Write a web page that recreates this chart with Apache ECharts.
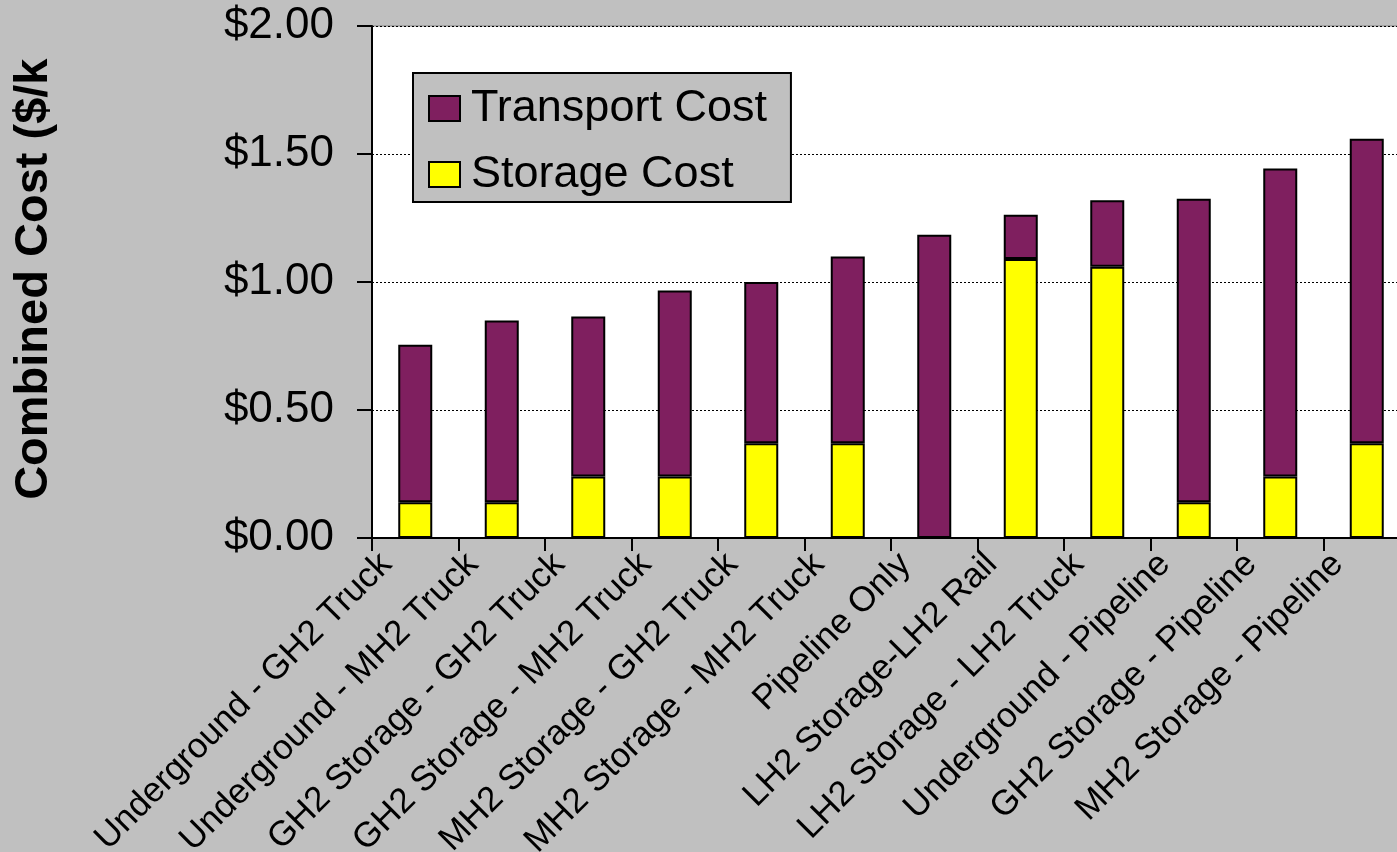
<!DOCTYPE html>
<html>
<head>
<meta charset="utf-8">
<script src="https://cdn.jsdelivr.net/npm/echarts@6/dist/echarts.min.js"></script>
<style>
html,body{margin:0;padding:0;background:#C0C0C0;}
#chart{width:1397px;height:852px;}
</style>
</head>
<body>
<div id="chart"></div>
<script>
const categories = [
  'Underground - GH2 Truck',
  'Underground - MH2 Truck',
  'GH2 Storage - GH2 Truck',
  'GH2 Storage - MH2 Truck',
  'MH2 Storage - GH2 Truck',
  'MH2 Storage - MH2 Truck',
  'Pipeline Only',
  'LH2 Storage-LH2 Rail',
  'LH2 Storage - LH2 Truck',
  'Underground - Pipeline',
  'GH2 Storage - Pipeline',
  'MH2 Storage - Pipeline'
];
const storageCost   = [0.14, 0.14, 0.24, 0.24, 0.37, 0.37, 0.00, 1.09, 1.06, 0.14, 0.24, 0.37];
const transportCost = [0.615, 0.71, 0.625, 0.727, 0.63, 0.73, 1.185, 0.173, 0.259, 1.185, 1.203, 1.19];
const yTicks = [0, 0.5, 1.0, 1.5, 2.0];
const yAxisTitle = 'Combined Cost ($/kg)';

const FONT = '"Liberation Sans", Arial, Helvetica, sans-serif';
const chart = echarts.init(document.getElementById('chart'));
chart.setOption({
  backgroundColor: '#C0C0C0',
  animation: false,
  textStyle: { fontFamily: FONT, color: '#000' },
  grid: {
    left: 372, top: 26, width: 1038, height: 512,
    containLabel: false, outerBoundsMode: 'none',
    show: true, backgroundColor: '#FFFFFF', borderColor: '#808080', borderWidth: 1
  },
  legend: {
    orient: 'vertical',
    left: 413, top: 73,
    data: ['Transport Cost', 'Storage Cost'],
    backgroundColor: '#C0C0C0',
    borderColor: '#000', borderWidth: 2,
    borderRadius: 0,
    padding: [13, 24, 5, 15],
    itemWidth: 31, itemHeight: 25,
    itemGap: 21,
    icon: 'rect',
    itemStyle: { borderWidth: 2, borderColor: '#000' },
    textStyle: { fontSize: 45, fontFamily: FONT, color: '#000', lineHeight: 44, padding: [0, 0, 0, 6] }
  },
  xAxis: {
    type: 'category',
    data: categories,
    axisLine: { lineStyle: { color: '#000', width: 2 } },
    axisTick: { show: true, inside: false, interval: 0, length: 13, lineStyle: { color: '#000', width: 2 } },
    axisLabel: { show: false, interval: 0 },
    splitLine: { show: false }
  },
  yAxis: {
    type: 'value',
    min: yTicks[0], max: yTicks[yTicks.length - 1], interval: 0.5,
    axisLine: { show: true, lineStyle: { color: '#000', width: 2 } },
    axisTick: { show: true, inside: false, length: 15, lineStyle: { color: '#000', width: 2 } },
    axisLabel: {
      margin: 38, fontSize: 44, fontFamily: FONT, color: '#000',
      formatter: v => '$' + v.toFixed(2)
    },
    splitLine: { show: true, lineStyle: { color: '#000', width: 1, type: [2, 2] } }
  },
  series: [
    {
      name: 'Storage Cost', type: 'bar', stack: 'total', barWidth: 34,
      data: storageCost,
      itemStyle: { color: '#FFFF00', borderColor: '#000', borderWidth: 2 }
    },
    {
      name: 'Transport Cost', type: 'bar', stack: 'total', barWidth: 34,
      data: transportCost,
      itemStyle: { color: '#7F1F5F', borderColor: '#000', borderWidth: 2 }
    },
    {
      name: 'Category Labels', type: 'custom', silent: true, clip: false, z: 10,
      data: categories.map((c, i) => [i, 0]),
      encode: { x: 0, y: 1 },
      renderItem: (params, api) => {
        const i = params.dataIndex;
        const p = api.coord([api.value(0), api.value(1)]);
        return {
          type: 'text',
          x: p[0] - 29, y: p[1] + 21,
          rotation: Math.PI / 4,
          style: {
            text: categories[i], font: '35px ' + FONT, fill: '#000',
            align: 'right', verticalAlign: 'middle'
          }
        };
      }
    }
  ],
  graphic: [
    {
      type: 'text', x: 34, y: 257, rotation: Math.PI / 2, z: 10,
      style: {
        text: yAxisTitle, font: 'bold 47px ' + FONT, fill: '#000',
        textAlign: 'center', textVerticalAlign: 'middle'
      }
    },
    {
      type: 'rect', z: 20,
      shape: { x: 0, y: 0, width: 90, height: 58 },
      style: { fill: '#C0C0C0' }
    }
  ]
});
</script>
</body>
</html>
